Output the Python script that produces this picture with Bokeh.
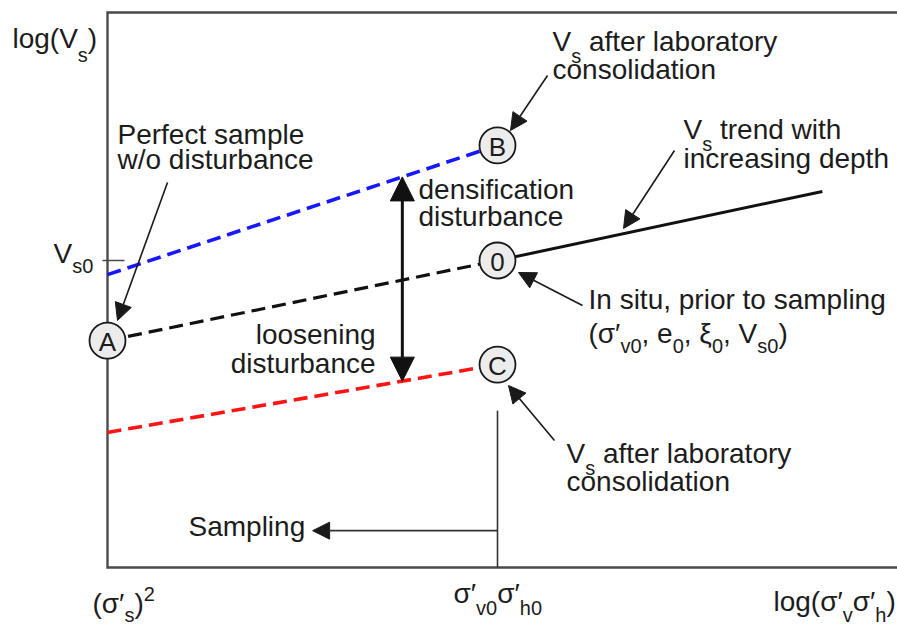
from bokeh.plotting import figure
from bokeh.models import Range1d, Arrow, NormalHead, ColumnDataSource
from bokeh.core.properties import value
from bokeh.embed import file_html
from bokeh.resources import INLINE
import numpy as np

# ---------------- data (schematic units: x = log(s'v s'h), y = log(Vs)) ----------------
point_labels = ["A", "B", "0", "C"]
point_x = [0.0, 1.0, 1.0, 1.0]
point_vs = [0.739, 1.375, 1.0, 0.661]

dashed_x = [0.0, 1.0]
vs_blue = [0.954, 1.375]     # densified sample line, ends at B
vs_black = [0.739, 1.0]      # perfect sample line, A -> 0
vs_red = [0.440, 0.661]      # loosened sample line, ends at C

trend_x = [1.0, 1.833]
trend_vs = [1.0, 1.225]

vs0 = 1.0                    # V_s0 tick on the y axis
x_sampling = 1.0             # s'v0 s'h0
sampling_line_top = 0.511
sampling_arrow_y = 0.12
sampling_arrow_end = 0.526
disturb_arrow_x = 0.756
axis_top = 1.808

# ---------------- layout ----------------
W, H = 897, 626
FL, FB = 107, 567          # pixel position of the axes origin
PX_X, PX_Y = 390.0, 307.0  # pixels per schematic unit
x_end = (W - FL) / PX_X

def X(px):
    return (px - FL) / PX_X

def Y(py):
    return (FB - py) / PX_Y

FONT = "Liberation Sans"
FS, SUB = 28, 20
TXT = "#1c1c1c"
BASE_FIX = 0.32            # renderer places alphabetic baseline ~0.32 em low

ADV = {' ': 278, '(': 333, ')': 333, ',': 278, '/': 278, '\u2032': 190, '\u00b2': 333,
       '\u03c3': 617, '\u03be': 448, '0': 556, '2': 556}
for c in "ABEKPSVXY":
    ADV[c] = 667
for c in "CDHNRUw":
    ADV[c] = 722
ADV.update({'F': 611, 'T': 611, 'Z': 611, 'G': 778, 'O': 778, 'Q': 778, 'I': 278, 'J': 500,
            'L': 556, 'M': 833, 'W': 944})
for c in "abdeghnopqu":
    ADV[c] = 556
for c in "ckstvxyz":
    ADV[c] = 500
ADV.update({'f': 278, 't': 278, 'i': 222, 'j': 222, 'l': 222, 'm': 833, 'r': 333})

def tw(s, size):
    return sum(ADV.get(c, 556) for c in s) / 1000.0 * size

left_items = {"x": [], "y": [], "text": [], "size": []}

def rich(x_px, base_px, parts, drop=11, store=left_items):
    x = x_px
    for txt, kind in parts:
        if kind == "n":
            size, dy = FS, 0
        elif kind == "p":
            size, dy = SUB, -12
        else:
            size, dy = SUB, drop
        stripped = txt.lstrip(" ")
        x += tw(txt[:len(txt) - len(stripped)], size)
        store["x"].append(X(x))
        store["y"].append(Y(base_px + dy - BASE_FIX * size))
        store["text"].append(stripped)
        store["size"].append(f"{size}px")
        x += tw(stripped, size)

# annotation texts
rich(12, 47, [("log(V", "n"), ("s", "s"), (")", "n")], drop=14)
rich(53, 262, [("V", "n"), ("s0", "s")], drop=10)
rich(117, 143, [("Perfect sample", "n")])
rich(117, 168, [("w/o disturbance", "n")])
rich(552, 50, [("V", "n"), ("s", "s"), (" after laboratory", "n")], drop=12)
rich(552, 78, [("consolidation", "n")])
rich(683, 138, [("V", "n"), ("s", "s"), (" trend with", "n")], drop=12)
rich(683, 167, [("increasing depth", "n")])
rich(418, 198, [("densification", "n")])
rich(418, 225, [("disturbance", "n")])
rich(588, 308, [("In situ, prior to sampling", "n")])
rich(588, 342, [("(\u03c3\u2032", "n"), ("v0", "s"), (", e", "n"), ("0", "s"), (", \u03be", "n"),
                ("0", "s"), (", V", "n"), ("s0", "s"), (")", "n")], drop=10)
rich(566, 462, [("V", "n"), ("s", "s"), (" after laboratory", "n")], drop=12)
rich(566, 490, [("consolidation", "n")])
rich(188, 535, [("Sampling", "n")])
rich(92, 612, [("(\u03c3\u2032", "n"), ("s", "s"), (")", "n"), ("2", "p")], drop=9)
rich(453, 602, [("\u03c3\u2032", "n"), ("v0", "s"), ("\u03c3\u2032", "n"), ("h0", "s")], drop=12)
rich(773, 610, [("log(\u03c3\u2032", "n"), ("v", "s"), ("\u03c3\u2032", "n"), ("h", "s"), (")", "n")], drop=11)

rich(375 - tw("loosening", FS), 343, [("loosening", "n")])
rich(375 - tw("disturbance", FS), 372, [("disturbance", "n")])

# ---------------- figure ----------------
p = figure(width=W, height=H,
           x_range=Range1d(-FL / PX_X, x_end),
           y_range=Range1d(-(H - FB) / PX_Y, FB / PX_Y),
           output_backend="svg", toolbar_location=None, min_border=0,
           x_axis_location=None, y_axis_location=None,
           outline_line_color=None, background_fill_color="white",
           border_fill_color="white")
p.grid.visible = False

# axes box (left, top, bottom)
p.line([x_end, 0, 0, x_end], [axis_top, axis_top, 0, 0],
       line_color="#4a4a4a", line_width=2.4, line_join="miter")
# V_s0 tick
p.segment(x0=[X(102)], y0=[vs0], x1=[X(124)], y1=[vs0], line_color="#4a4a4a", line_width=1.6)

# sampling marker line
p.segment(x0=[x_sampling], y0=[0], x1=[x_sampling], y1=[sampling_line_top],
          line_color="#333333", line_width=1.6)

# dashed lines
p.line(dashed_x, vs_blue, line_color="#1818ff", line_width=3.6, line_dash="14 7")
p.line(dashed_x, vs_black, line_color="#111111", line_width=3.2, line_dash="14 7")
p.line(dashed_x, vs_red, line_color="#ff1414", line_width=3.6, line_dash="14 7")
# in situ trend
p.line(trend_x, trend_vs, line_color="#111111", line_width=3.0)

# state circles
pts = ColumnDataSource(dict(x=point_x, y=point_vs, lab=point_labels,
                            ly=[v - (9.5 - BASE_FIX * 26) / PX_Y for v in point_vs]))
p.scatter("x", "y", source=pts, marker="circle", size=36, fill_color="#ececec",
          line_color="#1a1a1a", line_width=1.8)
p.text("x", "ly", text="lab", source=pts, text_align="center", text_baseline="alphabetic",
       text_font=value(FONT), text_font_size="26px", text_color=TXT)

# disturbance double arrow
y_top = float(np.interp(disturb_arrow_x, dashed_x, vs_blue))
y_bot = float(np.interp(disturb_arrow_x, dashed_x, vs_red))
p.add_layout(Arrow(x_start=disturb_arrow_x, y_start=y_bot, x_end=disturb_arrow_x, y_end=y_top,
                   line_width=3, line_color="#111111",
                   start=NormalHead(size=24, fill_color="#111111", line_color="#111111"),
                   end=NormalHead(size=24, fill_color="#111111", line_color="#111111")))

# leader arrows (start px -> tip px)
leaders = [((167, 182), (117, 320)),
           ((547, 75), (510, 130)),
           ((674, 150), (623, 228)),
           ((582, 305), (518, 272)),
           ((554, 440), (508, 385))]
for (sx, sy), (ex, ey) in leaders:
    p.add_layout(Arrow(x_start=X(sx), y_start=Y(sy), x_end=X(ex), y_end=Y(ey),
                       line_width=1.6, line_color="#1a1a1a",
                       end=NormalHead(size=17, fill_color="#1a1a1a", line_color="#1a1a1a")))
# sampling arrow
p.add_layout(Arrow(x_start=x_sampling, y_start=sampling_arrow_y, x_end=sampling_arrow_end,
                   y_end=sampling_arrow_y, line_width=1.6, line_color="#333333",
                   end=NormalHead(size=17, fill_color="#1a1a1a", line_color="#1a1a1a")))

# texts
p.text("x", "y", text="text", text_font_size="size", source=ColumnDataSource(left_items),
       text_align="left", text_baseline="alphabetic", text_font=value(FONT), text_color=TXT)

open("out.html", "w").write(file_html(p, INLINE))
